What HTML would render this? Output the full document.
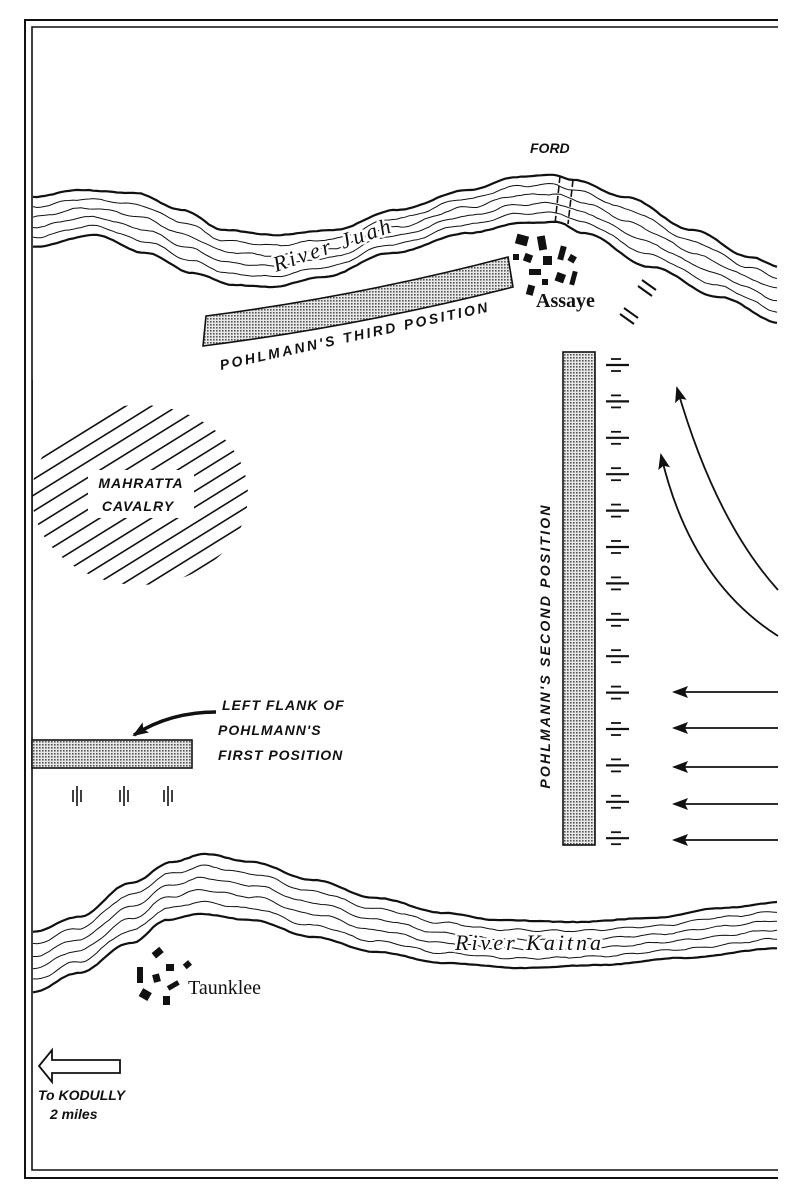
<!DOCTYPE html>
<html><head><meta charset="utf-8">
<style>
html,body{margin:0;padding:0;background:#fff;}
svg{display:block;}
.lab{font-family:"Liberation Sans",sans-serif;font-style:italic;font-weight:bold;fill:#111;}
.ser{font-family:"Liberation Serif",serif;fill:#111;}
.rl{paint-order:stroke;stroke:#fff;stroke-width:5px;stroke-linejoin:round;}
</style></head>
<body>
<svg id="s" width="810" height="1200" viewBox="0 0 810 1200" xmlns="http://www.w3.org/2000/svg">
<defs>
<pattern id="st" width="3" height="3" patternUnits="userSpaceOnUse">
<rect width="3" height="3" fill="#e8e8e8"/>
<rect width="1.6" height="1.6" fill="#555"/>
</pattern>
<clipPath id="cav"><ellipse cx="140" cy="495" rx="108" ry="90"/></clipPath>
<marker id="ah2" markerWidth="16" markerHeight="12" refX="14" refY="6" orient="auto" markerUnits="userSpaceOnUse">
<path d="M0,0 L16,6 L0,12 L3,6 Z" fill="#111"/>
</marker>
</defs>

<g stroke="#111" fill="none">
<path d="M778,20 H25 V1178 H778" stroke-width="2"/>
<path d="M778,27 H32 V1170 H778" stroke-width="1.6"/>
</g>

<g id="rivers" fill="none" stroke="#111"></g>

<g stroke="#111" stroke-width="1.6" stroke-dasharray="7,3" fill="none">
<path d="M560,176 L555,224"/>
<path d="M573,180 L568,224"/>
</g>
<text class="lab" x="530" y="153" font-size="14">FORD</text>

<text class="ser rl" font-style="italic" font-size="22" letter-spacing="3" transform="translate(276,272) rotate(-19)">River Juah</text>

<path d="M206,316 Q360,296 508,257 L513,287 Q360,326 203,346 Z" fill="url(#st)" stroke="#111" stroke-width="1.6"/>
<text class="lab" font-size="14" letter-spacing="2.6" transform="translate(221,370) rotate(-12.3)">POHLMANN'S THIRD POSITION</text>

<g fill="#111">
<rect x="516" y="235" width="12" height="10" transform="rotate(15 522 240)"/>
<rect x="538" y="236" width="8" height="14" transform="rotate(-10 542 243)"/>
<rect x="513" y="254" width="6" height="6"/>
<rect x="524" y="254" width="8" height="8" transform="rotate(20 528 258)"/>
<rect x="543" y="256" width="9" height="9"/>
<rect x="559" y="246" width="6" height="14" transform="rotate(15 562 253)"/>
<rect x="569" y="255" width="7" height="7" transform="rotate(30 572 258)"/>
<rect x="529" y="269" width="12" height="6"/>
<rect x="542" y="279" width="6" height="6"/>
<rect x="556" y="273" width="9" height="9" transform="rotate(20 560 277)"/>
<rect x="571" y="271" width="5" height="14" transform="rotate(15 573 278)"/>
<rect x="527" y="285" width="7" height="10" transform="rotate(15 530 290)"/>
</g>
<text class="ser" x="536" y="307" font-size="20" font-weight="bold">Assaye</text>
<g stroke="#111" stroke-width="2">
<path d="M642,280 L656,290 M638,286 L652,296"/>
<path d="M624,308 L638,318 M620,314 L634,324"/>
</g>

<rect x="563" y="352" width="32" height="493" fill="url(#st)" stroke="#111" stroke-width="1.6"/>
<g id="ticks" stroke="#111"></g>
<text class="lab" font-size="14" letter-spacing="2.2" text-anchor="middle" transform="translate(550,646) rotate(-90)">POHLMANN'S SECOND POSITION</text>

<g stroke="#111" stroke-width="1.8" fill="none">
<path d="M778,590 Q715,520 677,388" marker-end="url(#ah2)"/>
<path d="M778,636 Q690,580 661,455" marker-end="url(#ah2)"/>
<path d="M778,692 H674" marker-end="url(#ah2)"/>
<path d="M778,728 H674" marker-end="url(#ah2)"/>
<path d="M778,767 H674" marker-end="url(#ah2)"/>
<path d="M778,804 H674" marker-end="url(#ah2)"/>
<path d="M778,840 H674" marker-end="url(#ah2)"/>
</g>

<g clip-path="url(#cav)" stroke="#111" stroke-width="1.6" id="hatch"></g>
<rect x="88" y="470" width="106" height="48" fill="#fff"/>
<text class="lab" font-size="14" letter-spacing="1" x="141" y="488" text-anchor="middle">MAHRATTA</text>
<text class="lab" font-size="14" letter-spacing="1" x="138" y="511" text-anchor="middle">CAVALRY</text>
<rect x="20" y="380" width="12" height="220" fill="#fff"/>
<path d="M25,380 V600" stroke="#111" stroke-width="2"/>
<path d="M32,380 V600" stroke="#111" stroke-width="1.6"/>

<rect x="32" y="740" width="160" height="28" fill="url(#st)" stroke="#111" stroke-width="1.6"/>
<g stroke="#111" stroke-width="1.6">
<path d="M77,786 V806 M73,790 V802 M81,790 V802"/>
<path d="M124,786 V806 M120,790 V802 M128,790 V802"/>
<path d="M168,786 V806 M164,790 V802 M172,790 V802"/>
</g>
<path d="M216,712 Q170,712 134,735" stroke="#111" stroke-width="3.5" fill="none" marker-end="url(#ah2)"/>
<text class="lab" font-size="14" letter-spacing="1" x="222" y="710">LEFT FLANK OF</text>
<text class="lab" font-size="14" letter-spacing="1" x="218" y="735">POHLMANN'S</text>
<text class="lab" font-size="14" letter-spacing="1" x="218" y="760">FIRST POSITION</text>

<text class="ser rl" font-style="italic" font-size="22" letter-spacing="3" x="455" y="950">River  Kaitna</text>

<g fill="#111">
<rect x="153" y="949" width="10" height="7" transform="rotate(-40 158 953)"/>
<rect x="137" y="967" width="6" height="16"/>
<rect x="153" y="974" width="7" height="8" transform="rotate(-15 157 978)"/>
<rect x="166" y="964" width="8" height="7"/>
<rect x="184" y="962" width="7" height="6" transform="rotate(-40 187 965)"/>
<rect x="167" y="983" width="12" height="5" transform="rotate(-30 173 985)"/>
<rect x="140" y="990" width="10" height="9" transform="rotate(30 145 995)"/>
<rect x="163" y="996" width="7" height="9"/>
</g>
<text class="ser" x="188" y="994" font-size="20">Taunklee</text>

<path d="M39,1066 L52,1050 L52,1060 L120,1060 L120,1073 L52,1073 L52,1082 Z" fill="#fff" stroke="#111" stroke-width="1.8"/>
<text class="lab" font-size="14" x="38" y="1100">To KODULLY</text>
<text class="lab" font-size="14" x="50" y="1119" font-weight="normal">2 miles</text>
</svg>
<script>
var NS="http://www.w3.org/2000/svg";
function mk(p,d,w){var e=document.createElementNS(NS,"path");e.setAttribute("d",d);e.setAttribute("stroke-width",w);e.setAttribute("fill","none");e.setAttribute("stroke","#111");p.insertBefore?p.appendChild(e):0;}
function interp(pts,x){for(var i=0;i<pts.length-1;i++){if(x>=pts[i][0]&&x<=pts[i+1][0]){var t=(x-pts[i][0])/(pts[i+1][0]-pts[i][0]);t=(1-Math.cos(t*Math.PI))/2;return pts[i][1]+t*(pts[i+1][1]-pts[i][1]);}}return pts[pts.length-1][1];}
var seed=3;function rnd(){seed=(seed*9301+49297)%233280;return seed/233280;}
function river(top,bot,n){
 var g=document.getElementById("rivers");
 for(var k=0;k<=n+1;k++){
  var f=k/(n+1),d="",edge=(k==0||k==n+1);
  var ph=rnd()*6;
  for(var x=33;x<=778;x+=4){
   var y=interp(top,x)*(1-f)+interp(bot,x)*f;
   if(!edge){y+=0.9*Math.sin(x*0.18+ph)+(rnd()-0.5)*0.6;}
   else{y+=(rnd()-0.5)*0.6;}
   d+=(d===""?"M":"L")+x+","+y.toFixed(1)+" ";
  }
  mk(g,d,edge?2.2:1.0);
 }
}
river([[33,197],[78,190],[135,193],[182,210],[224,230],[276,235],[333,230],[396,210],[469,190],[516,177],[552,175],[573,180],[625,197],[693,230],[750,257],[781,267]],
[[33,247],[94,235],[146,253],[193,273],[234,285],[271,287],[323,277],[391,253],[469,233],[521,223],[557,222],[583,233],[651,267],[719,297],[781,323]],4);
river([[33,932],[78,917],[131,883],[172,862],[204,854],[251,862],[313,880],[376,898],[444,913],[496,920],[575,922],[653,918],[721,908],[784,902]],
[[33,992],[78,973],[131,943],[167,920],[199,914],[251,920],[313,937],[376,952],[444,963],[522,968],[601,965],[679,958],[784,948]],4);
var tg=document.getElementById("ticks");
for(var i=0;i<14;i++){var y=365+i*36.4;
 mk(tg,"M606,"+y+" H629",2.2);mk(tg,"M611,"+(y-6)+" H621",1.8);mk(tg,"M611,"+(y+6)+" H621",1.8);}
var hg=document.getElementById("hatch");
for(var c=-700;c<400;c+=16){
 var b=c+560;
 mk(hg,"M20,"+(b-0.62*20)+" L260,"+(b-0.62*260),1.6);
}
</script>
</body></html>
